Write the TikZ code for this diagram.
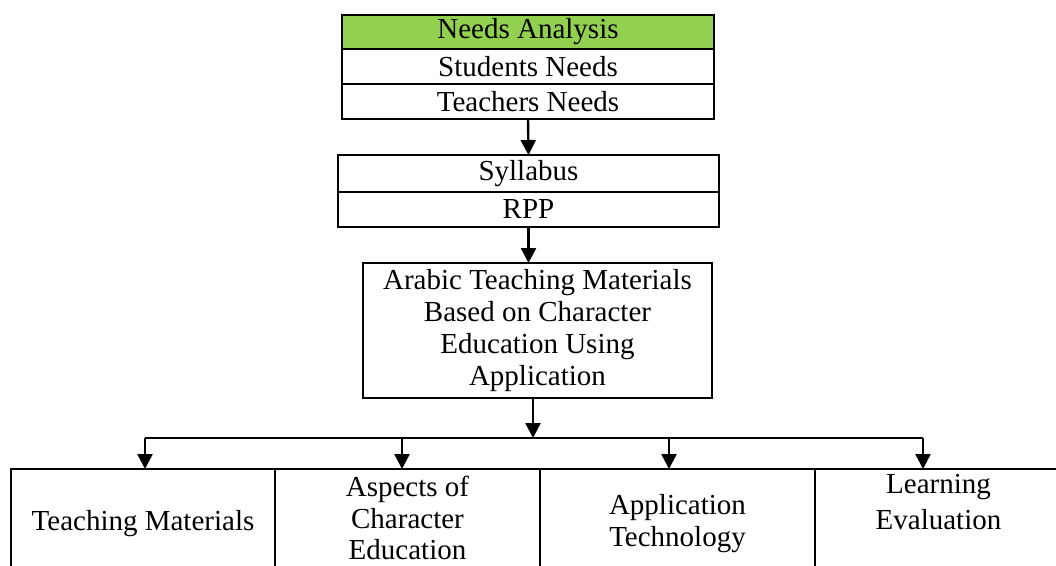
\documentclass[tikz,border=0pt]{standalone}
\usepackage{fontspec}
\setmainfont{Liberation Serif}
\usepackage{tikz}
\usetikzlibrary{arrows.meta, positioning}
\definecolor{needsgreen}{RGB}{146,208,80}

\begin{document}
\begin{tikzpicture}[x=1pt, y=-1pt,
		cell/.style={draw, line width=2.4pt, outer sep=0pt, inner sep=0pt, align=center, font=\fontsize{29}{32}\selectfont},
		arr/.style={-{Triangle[length=15pt, width=15pt]}, line width=2.4pt}]
		
		\useasboundingbox (0,0) rectangle (1056,565);
		\clip (0,0) rectangle (1056,565);
		
		\node[cell, fill=needsgreen, minimum width=372pt, minimum height=34pt] (needs) at (528,32) {Needs Analysis};
		\node[cell, minimum width=372pt, minimum height=35pt] (students) at (528,66.5) {Students Needs};
		\node[cell, minimum width=372pt, minimum height=35pt] (teachers) at (528,101.5) {Teachers Needs};
		
		\node[cell, minimum width=381pt, minimum height=37pt] (syllabus) at (528.5,173.5) {Syllabus};
		\node[cell, minimum width=381pt, minimum height=35pt] (rpp) at (528.5,209.5) {RPP};
		\draw[arr] (teachers.south) -- (syllabus.north);
		
		\node[cell, minimum width=349pt, minimum height=135pt] (arabic) at (537.5,330.5) {Arabic Teaching Materials\\ Based on Character\\ Education Using\\ Application};
		\draw[arr] (rpp.south) -- (rpp.south |- arabic.north);
		
		\node[cell, minimum width=264pt, minimum height=109pt] (tm) at (143,523.5) {Teaching Materials};
		\node[cell, minimum width=265pt, minimum height=109pt, font=\fontsize{29}{31.5}\selectfont, text depth=11pt] (ace) at (407.5,523.5) {Aspects of\\ Character\\ Education};
		\node[cell, minimum width=275pt, minimum height=109pt] (apt) at (677.5,523.5) {Application\\ Technology};
		\node[cell, minimum width=247pt, minimum height=109pt, font=\fontsize{29}{36}\selectfont, text depth=44pt] (le) at (938.5,523.5) {Learning\\ Evaluation};
		
		\coordinate (hub) at (533,438);
		\coordinate (b1) at (145,438);
		\coordinate (b2) at (402,438);
		\coordinate (b3) at (669,438);
		\coordinate (b4) at (923,438);
		
		\draw[arr] (arabic.south -| hub) -- (hub);
		\draw[line width=2.4pt] (b1) -- (b4);
		\draw[arr] (b1) -- (b1 |- tm.north);
		\draw[arr] (b2) -- (b2 |- ace.north);
		\draw[arr] (b3) -- (b3 |- apt.north);
		\draw[arr] (b4) -- (b4 |- le.north);
		
\end{tikzpicture}
\end{document}
